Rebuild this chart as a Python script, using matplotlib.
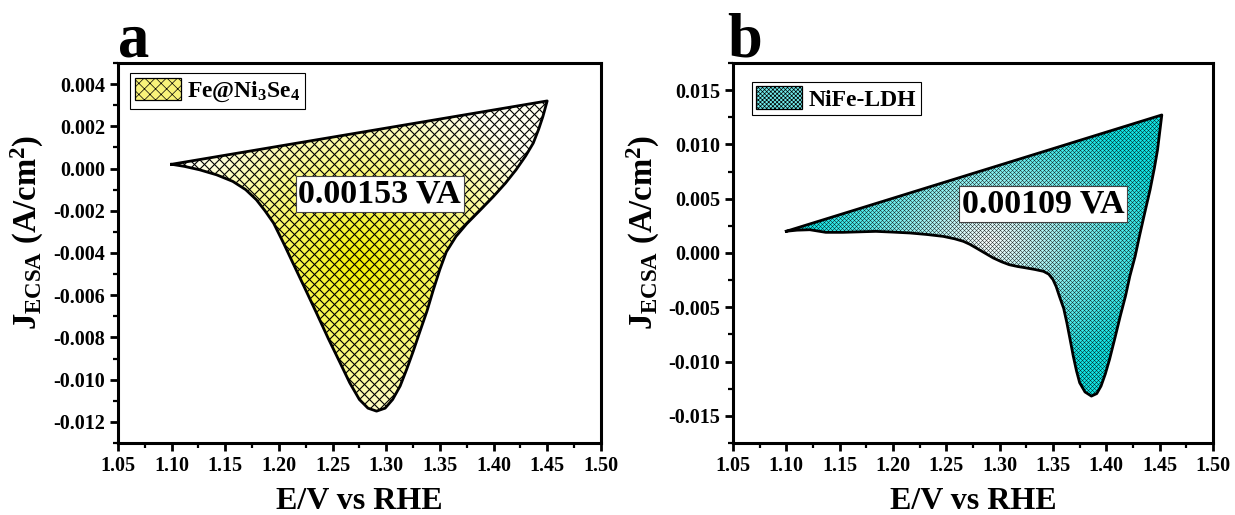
import numpy as np
import matplotlib
matplotlib.use("Agg")
import matplotlib.pyplot as plt
from matplotlib.patches import Polygon, Patch
from matplotlib.colors import LinearSegmentedColormap
from matplotlib.collections import LineCollection
from matplotlib.transforms import IdentityTransform
from matplotlib.ticker import MultipleLocator, FormatStrFormatter

# ---------------- data ----------------
# panel a : Fe@Ni3Se4
a_upper_x = [1.100, 1.450]
a_upper_y = [0.00020, 0.00320]
a_lower_x = [1.100, 1.112, 1.126, 1.142, 1.157, 1.169, 1.179, 1.187, 1.195, 1.204,
             1.213, 1.224, 1.235, 1.246, 1.257, 1.266, 1.275, 1.283, 1.291, 1.299,
             1.306, 1.313, 1.319, 1.325, 1.331, 1.338, 1.344, 1.350, 1.356, 1.365,
             1.375, 1.388, 1.400, 1.411, 1.421, 1.430, 1.437, 1.442, 1.446, 1.450]
a_lower_y = [0.00020, 0.00010, -0.00006, -0.00030, -0.00061, -0.00100, -0.00148, -0.00200,
             -0.00258, -0.00350, -0.00447, -0.00565, -0.00684, -0.00805, -0.00920, -0.01015,
             -0.01094, -0.01135, -0.01149, -0.01135, -0.01094, -0.01030, -0.00952, -0.00868,
             -0.00778, -0.00675, -0.00573, -0.00478, -0.00395, -0.00322, -0.00262, -0.00195,
             -0.00132, -0.00070, -0.00006, 0.00060, 0.00120, 0.00185, 0.00246, 0.00320]
a_label = "Fe@Ni$_3$Se$_4$"
a_area = "0.00153 VA"

# panel b : NiFe-LDH
b_upper_x = [1.100, 1.452]
b_upper_y = [0.00200, 0.01271]
b_lower_x = [1.100, 1.110, 1.122, 1.137, 1.153, 1.170, 1.184, 1.200, 1.216, 1.232,
             1.247, 1.258, 1.266, 1.272, 1.278, 1.286, 1.294, 1.302, 1.309, 1.317,
             1.325, 1.333, 1.341, 1.346, 1.350, 1.353, 1.356, 1.360, 1.363, 1.366,
             1.369, 1.372, 1.375, 1.380, 1.386, 1.391, 1.395, 1.399, 1.403, 1.408,
             1.413, 1.418, 1.422, 1.427, 1.431, 1.436, 1.441, 1.445, 1.448, 1.452]
b_lower_y = [0.00200, 0.00210, 0.00214, 0.00190, 0.00190, 0.00195, 0.00199, 0.00192,
             0.00184, 0.00170, 0.00153, 0.00130, 0.00107, 0.00080, 0.00046, 0.00000,
             -0.00046, -0.00082, -0.00108, -0.00125, -0.00138, -0.00152, -0.00169, -0.00195,
             -0.00245, -0.00310, -0.00399, -0.00510, -0.00643, -0.00795, -0.00950, -0.01085,
             -0.01195, -0.01280, -0.01318, -0.01295, -0.01226, -0.01115, -0.00980, -0.00785,
             -0.00583, -0.00395, -0.00215, -0.00030, 0.00153, 0.00370, 0.00582, 0.00780,
             0.00950, 0.01271]
b_label = "NiFe-LDH"
b_area = "0.00109 VA"

x_ticks = [1.05, 1.10, 1.15, 1.20, 1.25, 1.30, 1.35, 1.40, 1.45, 1.50]
a_yticks = [0.004, 0.002, 0.000, -0.002, -0.004, -0.006, -0.008, -0.010, -0.012]
b_yticks = [0.015, 0.010, 0.005, 0.000, -0.005, -0.010, -0.015]

# ---------------- style ----------------
plt.rcParams["font.family"] = ["Liberation Serif", "DejaVu Serif"]
plt.rcParams["font.weight"] = "bold"
plt.rcParams["mathtext.fontset"] = "custom"
plt.rcParams["mathtext.rm"] = "Liberation Serif:bold"
plt.rcParams["mathtext.it"] = "Liberation Serif:bold"
plt.rcParams["mathtext.bf"] = "Liberation Serif:bold"
plt.rcParams["axes.unicode_minus"] = False
plt.rcParams["hatch.color"] = "black"
plt.rcParams["hatch.linewidth"] = 0.5

fig = plt.figure(figsize=(12.35, 5.15), dpi=100)
ax_a = fig.add_axes([0.0955, 0.1398, 0.391, 0.738])
ax_b = fig.add_axes([0.5935, 0.1398, 0.3887, 0.738])


def style_axis(ax, ylim, yticks, ystep_minor, yfmt):
    ax.set_xlim(1.05, 1.50)
    ax.set_ylim(*ylim)
    ax.set_xticks(x_ticks)
    ax.set_yticks(yticks)
    ax.xaxis.set_minor_locator(MultipleLocator(0.025))
    ax.yaxis.set_minor_locator(MultipleLocator(ystep_minor))
    ax.xaxis.set_major_formatter(FormatStrFormatter("%.2f"))
    ax.yaxis.set_major_formatter(FormatStrFormatter(yfmt))
    for s in ax.spines.values():
        s.set_linewidth(2.2)
    ax.tick_params(which="major", direction="out", length=6, width=2,
                   labelsize=14.5, pad=3, top=False, right=False)
    ax.tick_params(which="minor", direction="out", length=3.5, width=1.6,
                   top=False, right=False)
    for lab in ax.get_xticklabels() + ax.get_yticklabels():
        lab.set_fontweight("bold")
    ax.set_xlabel("E/V vs RHE", fontsize=23, fontweight="bold", labelpad=8)
    ax.set_ylabel("$J_{ECSA}$ (A/cm$^2$)", fontsize=23.5, fontweight="bold")
    ax.yaxis.set_label_coords(-0.148, 0.555)


def cross_hatch(ax, clip_patch, spacing, lw):
    W, H = fig.bbox.width, fig.bbox.height
    segs = []
    for c in np.arange(-H - 0.5, W + H, spacing):
        segs.append([(c, 0.5), (c + H, H + 0.5)])
        segs.append([(c, 0.5), (c - H, H + 0.5)])
    lc = LineCollection(segs, colors="black", linewidths=lw,
                        transform=IdentityTransform(), zorder=2)
    lc.set_clip_path(clip_patch)
    ax.add_collection(lc, autolim=False)


def draw_loop(ax, lx, ly, ux, uy, c_center, c_edge, center, radii, spacing, hatch_lw):
    xs = list(lx) + list(ux)[::-1]
    ys = list(ly) + list(uy)[::-1]
    verts = np.column_stack([xs, ys])
    x0, x1 = min(xs), max(xs)
    y0, y1 = min(ys), max(ys)
    gx = np.linspace(x0, x1, 300)
    gy = np.linspace(y0, y1, 300)
    GX, GY = np.meshgrid(gx, gy)
    r = np.sqrt(((GX - center[0]) / radii[0]) ** 2 + ((GY - center[1]) / radii[1]) ** 2)
    r = np.clip(r, 0, 1)
    cmap = LinearSegmentedColormap.from_list("g", [c_center, c_edge])
    clip = Polygon(verts, closed=True, facecolor="none", edgecolor="none",
                   transform=ax.transData)
    ax.add_patch(clip)
    im = ax.imshow(r, extent=[x0, x1, y0, y1], origin="lower", cmap=cmap,
                   vmin=0, vmax=1, aspect="auto", interpolation="bilinear", zorder=1)
    im.set_clip_path(clip)
    cross_hatch(ax, clip, spacing, hatch_lw)
    ax.plot(xs + [xs[0]], ys + [ys[0]], color="black", lw=2.0,
            solid_joinstyle="round", zorder=3)


def add_legend(ax, color, hatch, label, anchor):
    h = Patch(facecolor=color, edgecolor="black", hatch=hatch, linewidth=0.9)
    leg = ax.legend([h], [label], loc="upper left", bbox_to_anchor=anchor,
                    borderaxespad=0, frameon=True, fancybox=False, framealpha=1,
                    edgecolor="black", prop={"size": 17, "weight": "bold"},
                    handlelength=1.95, handleheight=1.1, handletextpad=0.25,
                    borderpad=0.2)
    leg.get_frame().set_linewidth(0.8)
    return leg


# ---- panel a ----
style_axis(ax_a, (-0.013, 0.005), a_yticks, 0.001, "%.3f")
draw_loop(ax_a, a_lower_x, a_lower_y, a_upper_x, a_upper_y,
          "#f4f000", "#fffff0", (1.275, -0.0045), (0.19, 0.0085), 10.0, 0.8)
ax_a.text(1.294, -0.0012, a_area, fontsize=24.5, fontweight="bold", ha="center",
          va="center", zorder=5,
          bbox=dict(facecolor="white", edgecolor="#444444", linewidth=0.8, pad=2))
add_legend(ax_a, "#f8f27a", "xxx", a_label, (0.026, 0.974))
ax_a.text(0.0, 1.018, "a", transform=ax_a.transAxes, fontsize=45,
          fontweight="bold", ha="left", va="baseline")

# ---- panel b ----
style_axis(ax_b, (-0.0175, 0.0175), b_yticks, 0.0025, "%.3f")
draw_loop(ax_b, b_lower_x, b_lower_y, b_upper_x, b_upper_y,
          "#ffffff", "#10e8e8", (1.29, 0.0010), (0.17, 0.0125), 4.0, 0.3)
ax_b.text(1.3406, 0.00449, b_area, fontsize=24.5, fontweight="bold", ha="center",
          va="center", zorder=5,
          bbox=dict(facecolor="white", edgecolor="#444444", linewidth=0.8, pad=2))
add_legend(ax_b, "#70ecec", "xxxxxxxx", b_label, (0.039, 0.951))
ax_b.text(-0.012, 1.018, "b", transform=ax_b.transAxes, fontsize=45,
          fontweight="bold", ha="left", va="baseline")

fig.savefig("out.png", dpi=100)
